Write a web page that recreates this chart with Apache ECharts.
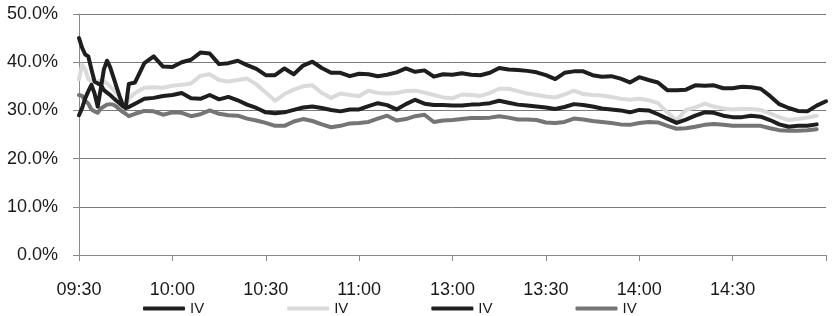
<!DOCTYPE html>
<html>
<head>
<meta charset="utf-8">
<script src="https://cdn.jsdelivr.net/npm/echarts@6/dist/echarts.min.js"></script>
<style>
html,body{margin:0;padding:0;background:#fff;}
#chart{width:838px;height:316px;}
</style>
</head>
<body>
<div id="chart"></div>
<script>
// minutes of trading since 09:30 (lunch break removed)
var minutes = [0,1,2,3,4,5,6,7,8,9,10,11,12,13,14,15,16,
  18,21,24,27,30,33,36,39,42,45,48,51,54,57,60,63,66,69,72,75,78,81,84,87,90,93,96,99,
  102,105,108,111,114,117,120,123,126,129,132,135,138,141,144,147,150,153,156,159,162,165,
  168,171,174,177,180,183,186,189,192,195,198,201,204,207,210,213,216,219,222,225,228,231,234,237,240];

var tickLabels = ['09:30','10:00','10:30','11:00','13:00','13:30','14:00','14:30',''];
var yTicks = [0,10,20,30,40,50];
var seriesNames = ['IV','IV','IV','IV'];

var iv1 = [29,30.5,32.5,34,35.3,33.5,30.8,34.5,38.5,40.3,39,37,35,33,31.2,30.6,35.5,
  35.8,39.8,41.2,39.1,39,40,40.5,42,41.8,39.6,39.8,40.3,39.4,38.6,37.3,37.3,38.7,37.5,39.3,40.1,38.8,37.8,37.8,37.1,37.6,37.5,37.1,37.4,
  37.9,38.7,38,38.3,37,37.5,37.4,37.7,37.4,37.3,37.8,38.8,38.5,38.4,38.2,37.9,37.3,36.5,37.8,38.1,38.1,37.3,
  37,37.1,36.6,35.8,36.9,36.3,35.8,34.2,34.2,34.3,35.2,35.1,35.2,34.6,34.6,34.9,34.8,34.5,33,31.3,30.5,29.9,29.8,31,31.9];

var iv2 = [36.5,39.5,38.5,36.5,36,35.8,36,36.2,36,35.6,35,34.3,33.6,32.7,31.7,30.9,32.4,
  33.6,34.7,34.8,34.7,35.1,35.3,35.6,37.2,37.5,36.3,36,36.3,36.6,35.4,33.7,32,33.4,34.3,35,35.2,33.6,32.6,33.5,33.2,33,34.1,33.6,33.5,
  33.6,34,34.1,33.7,33.2,32.7,32.5,33.3,33.2,33,33.6,34.5,34.5,34,33.5,33.2,32.9,32.7,33.3,34.1,33.4,33.2,
  33.1,32.8,32.4,32.2,32.4,32.1,31.5,29.6,27.9,30.1,30.6,31.4,30.8,30.4,30.2,30.3,30.3,30.1,29.4,28.6,28,28.2,28.5,28.9,null];

var iv3 = [45,43,41.6,41.2,38.5,36,35.6,35.3,34.2,33.7,33.2,32.6,32,31.5,30.9,30.5,30.7,
  31.4,32.4,32.6,33,33.2,33.6,32.5,32.4,33.2,32.3,32.8,32.1,31.2,30.5,29.6,29.4,29.6,30.1,30.6,30.8,30.5,30.1,29.8,30.2,30.2,30.9,31.5,31.1,
  30.2,31.3,32.2,31.4,31.1,31.1,31,31,31.2,31.3,31.5,32,31.6,31.2,31,30.8,30.6,30.3,30.7,31.3,31.1,30.8,
  30.4,30.2,30,29.6,30.1,30,29.2,28.3,27.4,28.1,28.9,29.6,29.5,28.9,28.6,28.6,28.9,28.7,28,27.1,26.6,26.8,26.8,27.1,null];

var iv4 = [33.2,33,32,31.4,30.2,29.8,29.5,30.4,30.8,31.2,31.3,31.2,30.8,30.2,29.7,29.3,28.8,
  29.3,29.9,29.8,29.1,29.6,29.5,28.8,29.2,30,29.3,29,28.9,28.3,27.9,27.4,26.8,26.8,27.7,28.2,27.8,27.1,26.5,26.8,27.3,27.4,27.6,28.3,28.9,
  27.9,28.2,28.8,29.1,27.6,27.9,28,28.2,28.4,28.4,28.5,28.8,28.5,28.1,28.1,28,27.5,27.4,27.6,28.3,28.1,27.8,
  27.6,27.4,27.1,27,27.4,27.6,27.5,26.8,26.2,26.3,26.6,27,27.2,27,26.8,26.8,26.8,26.8,26.3,25.9,25.8,25.8,25.9,26.1,null];

var colors = ['#1e1e1e','#dadada','#1e1e1e','#757575'];
var values = [iv1, iv2, iv3, iv4];

function pairs(arr){
  var out = [];
  for (var i = 0; i < minutes.length; i++) out.push([minutes[i], arr[i]]);
  return out;
}

var chart = echarts.init(document.getElementById('chart'), null, {renderer:'canvas'});
var series = values.map(function(v, i){
  return {
    name: 'S' + (i+1),
    type: 'line',
    data: pairs(v),
    showSymbol: false,
    symbol: 'none',
    connectNulls: false,
    lineStyle: {color: colors[i], width: 4, join: 'round', cap: 'round'},
    itemStyle: {color: colors[i]},
    z: [4,2,3,1][i]
  };
});

chart.setOption({
  animation: false,
  backgroundColor: '#ffffff',
  grid: {left: 79, right: 12, top: 14, bottom: 61, containLabel: false},
  legend: {
    left: 143, top: 301, padding: 0,
    itemWidth: 42, itemHeight: 4, itemGap: 83,
    icon: 'roundRect',
    formatter: function(name){ return seriesNames[parseInt(name.slice(1),10)-1]; },
    textStyle: {color: '#1a1a1a', fontSize: 15, fontFamily: 'Liberation Sans, Arial, sans-serif'},
    data: ['S1','S2','S3','S4']
  },
  xAxis: {
    type: 'value',
    min: 0, max: 240, interval: 30,
    axisLine: {show: true, lineStyle: {color: '#8a8a8a', width: 1}},
    axisTick: {show: true, length: 6, inside: false, lineStyle: {color: '#8a8a8a'}},
    splitLine: {show: false},
    axisLabel: {
      margin: 26,
      color: '#1a1a1a', fontSize: 18, fontFamily: 'Liberation Sans, Arial, sans-serif',
      showMaxLabel: true,
      formatter: function(v){ return tickLabels[Math.round(v/30)] || ''; }
    }
  },
  yAxis: {
    type: 'value',
    min: 0, max: 50, interval: 10,
    axisLine: {show: true, lineStyle: {color: '#8a8a8a', width: 1}},
    axisTick: {show: true, length: 6, lineStyle: {color: '#8a8a8a'}},
    splitLine: {show: true, lineStyle: {color: '#7a7a7a', width: 1}},
    axisLabel: {
      margin: 21,
      color: '#1a1a1a', fontSize: 18, fontFamily: 'Liberation Sans, Arial, sans-serif',
      formatter: function(v){ return yTicks.indexOf(v) >= 0 ? v.toFixed(1) + '%' : ''; }
    }
  },
  series: series
});
</script>
</body>
</html>
